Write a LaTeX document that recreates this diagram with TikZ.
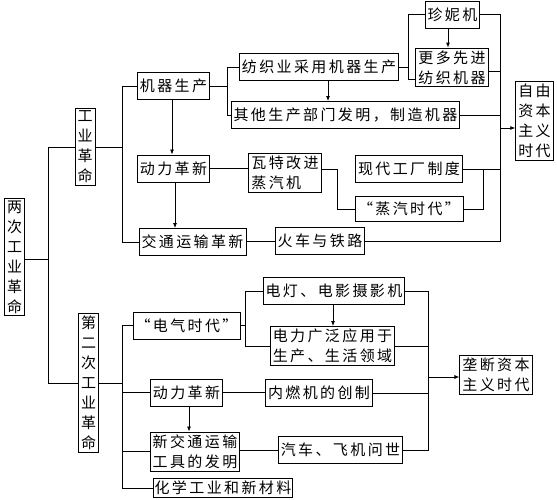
\documentclass[tikz,border=0pt]{standalone}
\usepackage{fontspec}
\usepackage{tikz}
\usetikzlibrary{arrows.meta}
\newfontfamily\cjk[LetterSpace=16]{Noto Sans CJK SC}

\begin{document}
\begin{tikzpicture}[x=1pt,y=-1pt,
box/.style={draw,line width=0.9pt,inner sep=2.5pt,minimum height=27pt,
  font=\cjk\fontsize{15}{20}\selectfont,align=center},
link/.style={line width=0.8pt},
arr/.style={line width=0.8pt,-{Latex[length=5pt,width=4pt]}}
]
\useasboundingbox (0,0) rectangle (557,500);

% The first revolution
\node[box] (lcgy) at (14.5,257) {两\\次\\工\\业\\革\\命};
\node[box] (gyg) at (85,147) {工\\业\\革\\命};
\node[box] (jqsc) at (173.5,86) {机器生产};
\node[box] (dlgxa) at (173.5,168.5) {动力革新};
\node[box] (jtys) at (192.5,242) {交通运输革新};
\node[box] (fzy) at (319,67) {纺织业采用机器生产};
\node[box] (qtbm) at (345.5,115) {其他生产部门发明，制造机器};
\node[box] (jnj) at (452.5,14.5) {珍妮机};
\node[box,align=left] (gdxj) at (452,67.5) {更多先进\\纺织机器};
\node[box,align=left] (wt) at (285,173) {瓦特改进\\蒸汽机};
\node[box] (xdgc) at (409,169) {现代工厂制度};
\node[box,minimum width=108pt,minimum height=25pt] (zqsd) at (409,209) {“蒸汽时代”};
\node[box] (hcy) at (320,241) {火车与铁路};
\node[box] (zyzb) at (534.5,121) {自\,由\\资\,本\\主\,义\\时\,代};

% The second revolution
\node[box] (dec) at (88.5,383) {第\\二\\次\\工\\业\\革\\命};
\node[box] (dqsd) at (186.5,325.5) {“电气时代”};
\node[box] (dlgxb) at (186.5,392.5) {动力革新};
\node[box,align=left] (xjt) at (195,451.5) {新交通运输\\工具的发明};
\node[box,minimum height=19pt,inner sep=1pt] (hx) at (223,488) {化学工业和新材料};
\node[box] (dd) at (334,291) {电灯、电影摄影机};
\node[box,align=left] (dlgf) at (332.5,346) {电力广泛应用于\\生产、生活领域};
\node[box] (nrj) at (319,393) {内燃机的创制};
\node[box] (qc) at (340.5,450) {汽车、飞机问世};
\node[box] (ldzb) at (496,375) {垄断资本\\主义时代};

% Bracket points
\coordinate (ba) at (48,259);
\coordinate (bb) at (122,147);
\coordinate (bc) at (227,86);
\coordinate (bd) at (408,67);
\coordinate (be) at (337,173);
\coordinate (bf) at (483,169);
\coordinate (ra) at (500,128);
\coordinate (bg) at (122,383);
\coordinate (bh) at (245,325.5);
\coordinate (rb) at (428,377);

% The connectors, first part
\draw[link] (lcgy.east |- ba) -- (ba) |- (gyg.west);
\draw[link] (ba) |- (dec.west);
\draw[link] (gyg.east) -- (bb) |- (jqsc.west);
\draw[link] (bb) |- (jtys.west);
\draw[link] (jqsc.east) -- (bc) |- (fzy.west);
\draw[link] (bc) |- (qtbm.west);
\draw[link] (fzy.east) -- (bd) |- (jnj.west);
\draw[link] (bd) |- ([yshift=8pt]gdxj.south west);
\draw[arr] (jnj.south -| 448,0) -- (gdxj.north -| 448,0);
\draw[arr] (fzy.south -| 328,0) -- (qtbm.north -| 328,0);
\draw[arr] (jqsc.south -| 172,0) -- (dlgxa.north -| 172,0);
\draw[arr] (dlgxa.south -| 175,0) -- (jtys.north -| 175,0);
\draw[link] (dlgxa.east) -- (dlgxa.east -| wt.west);
\draw[link] (wt.east |- xdgc) -- (be |- xdgc) |- (zqsd.west);
\draw[link] (xdgc.east) -- (bf) |- (zqsd.east);
\draw[link] (jtys.east |- hcy) -- (hcy.west);
\draw[link] (jnj.east) -| (ra);
\draw[link] (hcy.east) -| (ra);
\draw[link] ([yshift=-4pt]gdxj.east) -- ([yshift=-4pt]gdxj.east -| ra);
\draw[link] (qtbm.east) -- (qtbm.east -| ra);
\draw[link] (bf) -- (bf -| ra);
\draw[arr] (ra) -- (ra -| zyzb.west);

% The connectors, second part
\draw[link] (dec.east |- bg) -- (bg) |- (dqsd.west);
\draw[link] (bg) |- (hx.west);
\draw[link] (bg) |- (dlgxb.west);
\draw[link] (bg |- xjt) -- (xjt.west);
\draw[link] (dqsd.east) -- (bh) |- (dd.west);
\draw[link] (bh) |- (dlgf.west);
\draw[arr] (dd.south -| 333,0) -- (dlgf.north -| 333,0);
\draw[link] (dlgxb.east) -- (nrj.west |- dlgxb);
\draw[arr] (dlgxb.south -| 189,0) -- (xjt.north -| 189,0);
\draw[link] (xjt.east |- qc) -- (qc.west);
\draw[link] (dd.east) -| (rb);
\draw[link] (qc.east) -| (rb);
\draw[link] (dlgf.east) -- (dlgf.east -| rb);
\draw[link] (nrj.east) -- (nrj.east -| rb);
\draw[arr] (rb) -- (rb -| ldzb.west);
\end{tikzpicture}
\end{document}
